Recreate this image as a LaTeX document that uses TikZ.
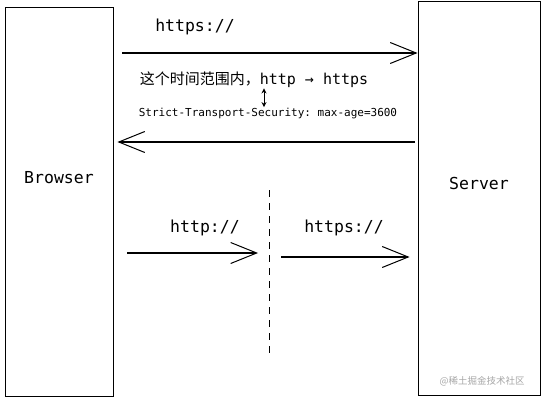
\documentclass[tikz,border=0pt]{standalone}
\usepackage{fontspec}
\setmonofont{DejaVu Sans Mono}
\newfontfamily\cjk{Noto Sans CJK SC}
\usetikzlibrary{positioning,arrows.meta,calc}

\begin{document}
\begin{tikzpicture}[
  x=1pt, y=-1pt,
  every node/.style={font=\ttfamily},
  party/.style={rectangle,draw,line width=0.9pt,inner sep=0pt},
  lbl/.style={font=\ttfamily\fontsize{16.5}{18}\selectfont},
  arr/.style={-{Straight Barb[length=26pt,width=21pt,line width=1pt]}, line width=1.1pt},
  dbl/.style={{Stealth[length=5pt,width=5pt]}-{Stealth[length=5pt,width=5pt]}, line width=0.9pt}
]
\useasboundingbox (0,0) rectangle (543,401);

\node[party, minimum width=108pt, minimum height=389pt] (browser) at (59,201.5) {};
\node[party, minimum width=122pt, minimum height=394pt] (server) at (479,198) {};
\node[lbl] (browserlbl) at (59,178) {Browser};
\node[lbl] (serverlbl) at (479,183) {Server};

% first visit over https
\coordinate (req) at (122,53);
\coordinate (resp) at (415,142);
\draw[arr] (req) -- (req -| server.west);
\node[lbl] (reqlbl) at (195,27) {https://};
\node (note) at (254,80) {\fontsize{15}{17}\selectfont{\cjk 这个时间范围内，}http → https};
\node[font=\ttfamily\fontsize{11}{13}\selectfont] (hsts) at (268,114) {Strict-Transport-Security: max-age=3600};
\draw[dbl, shorten <=-3pt, shorten >=-2pt] ([xshift=-4pt]hsts.north |- note.south) -- ([xshift=-4pt]hsts.north);
\draw[arr] (resp) -- ([xshift=4pt]browser.east |- resp);

% later visits: http rewritten to https
\coordinate (cut top) at (269,190);
\coordinate (cut bot) at (269,356);
\draw[line width=0.9pt, dash pattern=on 7pt off 6pt] (cut top) -- (cut bot);
\coordinate (plain) at (127,253);
\coordinate (plain end) at (258,253);
\coordinate (secure) at (281,257);
\draw[arr] (plain) -- (plain end);
\draw[arr] (secure) -- ([xshift=-8pt]server.west |- secure);
\node[lbl] (plainlbl) at (205,228) {http://};
\node[lbl] (securelbl) at (344,228) {https://};

\node[font=\cjk\fontsize{9.5}{11}\selectfont, text=gray!70] (mark) at (482,381) {@稀土掘金技术社区};
\end{tikzpicture}
\end{document}
